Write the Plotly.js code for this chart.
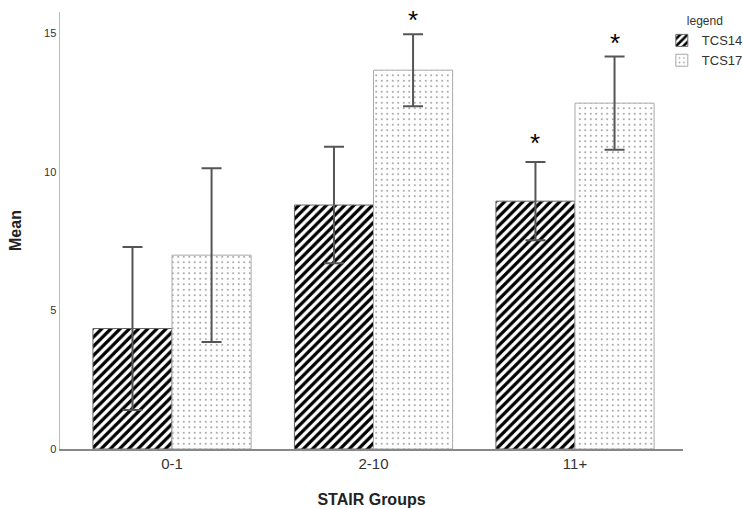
<!DOCTYPE html>
<html>
<head>
<meta charset="utf-8">
<script src="https://cdn.plot.ly/plotly-3.0.1.min.js"></script>
<style>html,body{margin:0;padding:0;background:#fff;}#chart{width:743px;height:508px;}</style>
</head>
<body>
<div id="chart"></div>
<script>
const categories = ["0-1", "2-10", "11+"];
const seriesNames = ["TCS14", "TCS17"];
const tcs14Mean = [4.35, 8.81, 8.95];
const tcs14Err = [2.94, 2.1, 1.41];
const tcs17Mean = [7.0, 13.68, 12.49];
const tcs17Err = [3.14, 1.3, 1.68];
const starGroup = [1, 2, 2];
const starSeries = [1, 0, 1];
const starY = [15.5, 11.05, 14.66];

const errStyle = {type: "data", visible: true, color: "#555555", thickness: 2, width: 10};

const traces = [
  {
    type: "bar", name: seriesNames[0], x: categories, y: tcs14Mean,
    error_y: Object.assign({array: tcs14Err}, errStyle),
    marker: {color: "#ffffff", line: {color: "#666666", width: 1},
      pattern: {shape: "/", fgcolor: "#000000", bgcolor: "#ffffff", size: 6.5, solidity: 0.5}}
  },
  {
    type: "bar", name: seriesNames[1], x: categories, y: tcs17Mean,
    error_y: Object.assign({array: tcs17Err}, errStyle),
    marker: {color: "#ffffff", line: {color: "#aaaaaa", width: 1},
      pattern: {shape: ".", fgcolor: "#999999", bgcolor: "#ffffff", size: 5.5, solidity: 0.1}}
  }
];

const bargap = 0.215;
const barW = (1 - bargap) / 2;
const annotations = starGroup.map((g, i) => ({
  x: g + (starSeries[i] === 0 ? -barW / 2 : barW / 2),
  y: starY[i], xref: "x", yref: "y", text: "*", showarrow: false,
  font: {family: "Liberation Sans, Arial, sans-serif", size: 26, color: "#000"},
  yanchor: "middle"
}));

const layout = {
  width: 743, height: 508,
  margin: {l: 60, r: 60, t: 12, b: 59, autoexpand: false},
  paper_bgcolor: "#fff", plot_bgcolor: "#fff",
  barmode: "group", bargap: bargap, bargroupgap: 0,
  font: {family: "Liberation Sans, Arial, sans-serif", color: "#333"},
  xaxis: {
    type: "category", range: [-0.556, 2.536],
    showline: true, linecolor: "#888", linewidth: 1.5, ticks: "", showgrid: false,
    tickfont: {size: 15, color: "#333"},
    title: {text: "STAIR Groups", font: {size: 16, color: "#222", weight: "bold"}, standoff: 24}
  },
  yaxis: {
    range: [0, 15.78], tickvals: [0, 5, 10, 15],
    showline: true, linecolor: "#bbb", linewidth: 1.5, ticks: "", showgrid: false, zeroline: false,
    tickfont: {size: 11, color: "#333"},
    title: {text: "Mean", font: {size: 16, color: "#222", weight: "bold"}, standoff: 18}
  },
  legend: {
    x: 0.966, xanchor: "left", y: 1.005, yanchor: "top",
    title: {text: "legend", font: {size: 12, color: "#333"}, side: "top center"},
    font: {size: 13, color: "#333"}, itemwidth: 30, tracegroupgap: 0
  },
  annotations: annotations
};

Plotly.newPlot("chart", traces, layout, {displayModeBar: false, staticPlot: true});
</script>
</body>
</html>
